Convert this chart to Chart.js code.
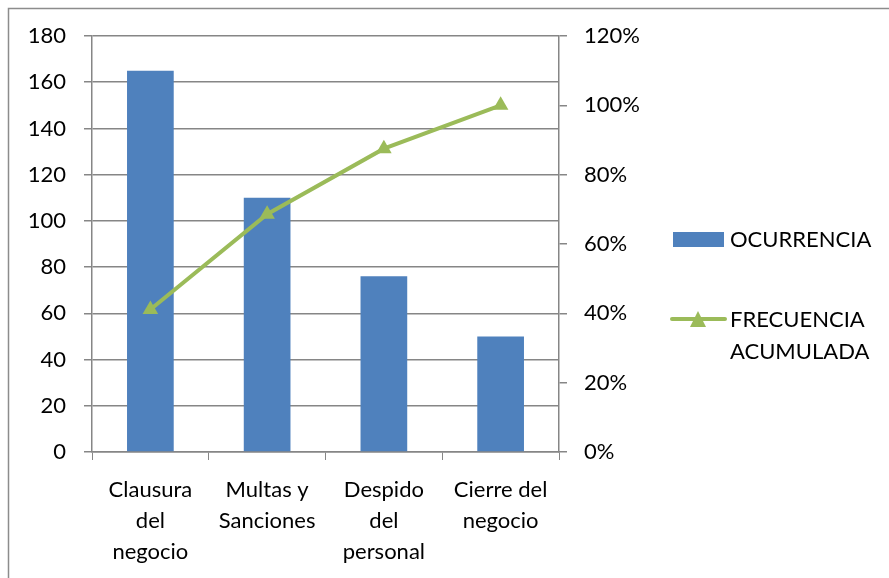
<!DOCTYPE html>
<html>
<head>
<meta charset="utf-8">
<script src="https://cdn.jsdelivr.net/npm/chart.js@4.4.1/dist/chart.umd.min.js"></script>
<style>
  html, body { margin: 0; padding: 0; background: #fff; }
  #wrap { width: 889px; height: 578px; position: relative; }
</style>
</head>
<body>
<div id="wrap"><canvas id="c" width="889" height="578"></canvas></div>
<script>
// Pareto data: occurrences per cause and cumulative frequency
const categories = [
  ['Clausura', 'del', 'negocio'],
  ['Multas y', 'Sanciones'],
  ['Despido', 'del', 'personal'],
  ['Cierre del', 'negocio']
];
const ocurrencia = [165, 110, 76, 50];
const frecuenciaAcumulada = [0.411, 0.686, 0.875, 1.0];
const seriesNames = ['OCURRENCIA', ['FRECUENCIA', 'ACUMULADA']];

const BLUE = '#4F81BD';
const GREEN = '#9BBB59';
const GRID = '#868686';
const FONT = 'Lato, "Open Sans", sans-serif';
const FSIZE = 22;

// Outer frame and side legend
const framePlugin = {
  id: 'frameAndLegend',
  afterDraw(chart) {
    const ctx = chart.ctx;
    ctx.save();
    ctx.strokeStyle = '#8c8c8c';
    ctx.lineWidth = 1.5;
    ctx.beginPath();
    ctx.moveTo(8.5, 578);
    ctx.lineTo(8.5, 8.5);
    ctx.lineTo(889, 8.5);
    ctx.stroke();

    ctx.font = FSIZE + 'px ' + FONT;
    ctx.textBaseline = 'middle';
    ctx.textAlign = 'left';

    // bar entry
    ctx.fillStyle = BLUE;
    ctx.fillRect(673, 232, 51, 15);
    ctx.fillStyle = '#000';
    ctx.fillText(seriesNames[0], 730, 240);

    // line entry
    ctx.strokeStyle = GREEN;
    ctx.lineWidth = 4;
    ctx.lineCap = 'round';
    ctx.beginPath();
    ctx.moveTo(672, 319);
    ctx.lineTo(725, 319);
    ctx.stroke();
    ctx.fillStyle = GREEN;
    ctx.beginPath();
    ctx.moveTo(698, 311);
    ctx.lineTo(706, 327);
    ctx.lineTo(690, 327);
    ctx.closePath();
    ctx.fill();
    ctx.fillStyle = '#000';
    ctx.fillText(seriesNames[1][0], 730, 320);
    ctx.fillText(seriesNames[1][1], 730, 352);
    ctx.restore();
  }
};

new Chart(document.getElementById('c'), {
  data: {
    labels: categories,
    datasets: [
      {
        type: 'line',
        label: 'FRECUENCIA ACUMULADA',
        data: frecuenciaAcumulada,
        yAxisID: 'y1',
        borderColor: GREEN,
        backgroundColor: GREEN,
        borderWidth: 4,
        pointStyle: 'triangle',
        pointRadius: 9,
        pointBorderWidth: 0,
        tension: 0,
        order: 0
      },
      {
        type: 'bar',
        label: 'OCURRENCIA',
        data: ocurrencia,
        yAxisID: 'y',
        backgroundColor: BLUE,
        categoryPercentage: 1,
        barPercentage: 0.4,
        order: 1
      }
    ]
  },
  plugins: [framePlugin],
  options: {
    responsive: false,
    animation: false,
    devicePixelRatio: 1,
    layout: { padding: { top: 36, left: 0, right: 0, bottom: 0 } },
    plugins: {
      legend: { display: false },
      tooltip: { enabled: false }
    },
    scales: {
      x: {
        offset: true,
        grid: {
          offset: true,
          drawOnChartArea: false,
          drawTicks: true,
          tickLength: 8,
          color: GRID
        },
        border: { color: GRID, width: 1.5 },
        ticks: {
          color: '#000',
          font: { family: FONT, size: FSIZE, lineHeight: 1.41 },
          padding: 14,
          maxRotation: 0,
          autoSkip: false
        },
        afterFit(s) { s.height = 126; }
      },
      y: {
        position: 'left',
        min: 0,
        max: 180,
        ticks: {
          stepSize: 20,
          color: '#000',
          font: { family: FONT, size: FSIZE },
          padding: 18
        },
        grid: { color: GRID, lineWidth: 1.5, tickLength: 8 },
        border: { color: GRID, width: 1.5 },
        afterFit(s) { s.width = 92; }
      },
      y1: {
        position: 'right',
        min: 0,
        max: 1.2,
        ticks: {
          stepSize: 0.2,
          color: '#000',
          font: { family: FONT, size: FSIZE },
          padding: 17,
          callback: v => Math.round(v * 100) + '%'
        },
        grid: { drawOnChartArea: false, color: GRID, lineWidth: 1.5, tickLength: 8 },
        border: { color: GRID, width: 1.5 },
        afterFit(s) { s.width = 330; }
      }
    }
  }
});
</script>
</body>
</html>
